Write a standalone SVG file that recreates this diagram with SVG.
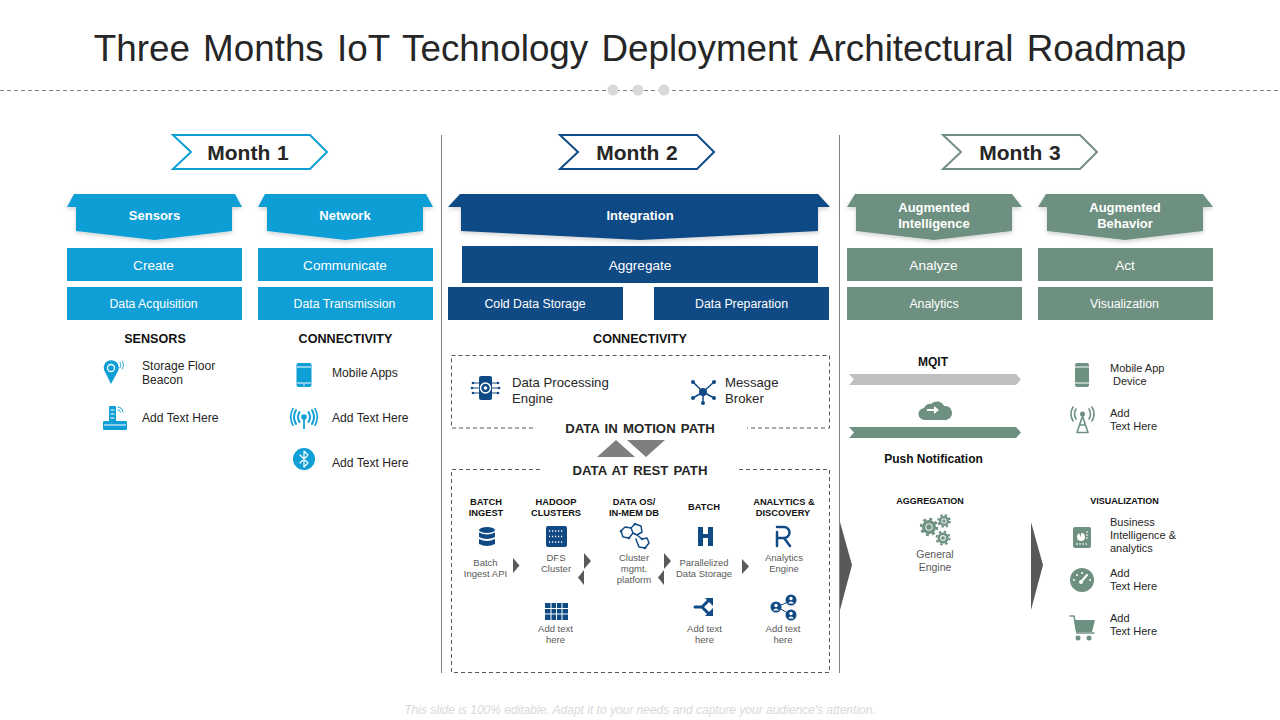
<svg xmlns="http://www.w3.org/2000/svg" width="1280" height="720" viewBox="0 0 1280 720">
<defs>
<filter id="sh" x="-10%" y="-10%" width="120%" height="130%"><feDropShadow dx="0" dy="2" stdDeviation="2" flood-color="#000" flood-opacity="0.18"/></filter>
</defs>
<style>
text{font-family:"Liberation Sans",Arial,sans-serif;fill:#262626}
.m{text-anchor:middle}
.w{fill:#fff;text-anchor:middle}
.hd{font-size:13px;font-weight:700}
.a{font-size:13.6px}.b{font-size:12.300px}
.s{font-size:12.600px;font-weight:700;text-anchor:middle;fill:#111}
.t{font-size:12.100px}
.u{font-size:13.200px}
.p{font-size:13.200px;font-weight:700;text-anchor:middle;word-spacing:1.500px}
.h{font-size:9.300px;font-weight:700;text-anchor:middle;fill:#111}
.g{font-size:9.500px;text-anchor:middle;fill:#595959}
.r{font-size:11px}
.mo{font-size:21px;font-weight:700;text-anchor:middle;word-spacing:1px}
.blue{fill:#0F9ED5}.navy{fill:#104A84}.green{fill:#6E9081}
.sb{stroke:#0F9ED5}.sn{stroke:#104A84}.sg{stroke:#6E9081}
.o{fill:none;stroke-linecap:round;stroke-linejoin:round}
.tri{fill:#595959}
.dash{fill:none;stroke:#595959;stroke-width:1;stroke-dasharray:4 3}
</style>
<rect width="1280" height="720" fill="#fff"/>
<text x="640" y="61" class="m" font-size="36.800" style="word-spacing:3px">Three Months IoT Technology Deployment Architectural Roadmap</text>
<g id="title-rule">
<line x1="0" y1="90.500" x2="1280" y2="90.500" stroke="#7f7f7f" stroke-dasharray="4 3"/>
<circle cx="613" cy="90" r="5.500" fill="#d9d9d9"/><circle cx="638" cy="90" r="5.500" fill="#d9d9d9"/><circle cx="664" cy="90" r="5.500" fill="#d9d9d9"/>
</g>
<g id="dividers" stroke="#7f7f7f" stroke-width="1">
<line x1="441.500" y1="135" x2="441.500" y2="673"/><line x1="839.500" y1="135" x2="839.500" y2="673"/>
</g>

<g id="month1"><path d="M173,135H310L327,152L310,169H173L191,152Z" fill="#fff" class="sb" stroke-width="2"/><text x="248" y="160" class="mo">Month 1</text></g>
<g id="month2"><path d="M560,135H697L714,152L697,169H560L578,152Z" fill="#fff" class="sn" stroke-width="2"/><text x="637" y="160" class="mo">Month 2</text></g>
<g id="month3"><path d="M943,135H1080L1097,152L1080,169H943L961,152Z" fill="#fff" class="sg" stroke-width="2"/><text x="1020" y="160" class="mo">Month 3</text></g>

<g id="sensors-col">
<path class="blue" filter="url(#sh)" d="M74,194H235L242,207H232V231L154.500,240L76,231V207H67Z"/>
<text x="154.500" y="220" class="w hd">Sensors</text>
<rect class="blue" x="67" y="248" width="175" height="33"/><text x="153.500" y="270" class="w a">Create</text>
<rect class="blue" x="67" y="287" width="175" height="33"/><text x="153.500" y="308" class="w b">Data Acquisition</text>
<text x="155" y="343" class="s">SENSORS</text>
</g>
<g id="network-col">
<path class="blue" filter="url(#sh)" d="M265,194H426L433,207H423V231L345.500,240L267,231V207H258Z"/>
<text x="345" y="220" class="w hd">Network</text>
<rect class="blue" x="258" y="248" width="175" height="33"/><text x="345" y="270" class="w a">Communicate</text>
<rect class="blue" x="258" y="287" width="175" height="33"/><text x="344.500" y="308" class="w b">Data Transmission</text>
<text x="345.500" y="343" class="s">CONNECTIVITY</text>
</g>
<g id="integration-col">
<path class="navy" filter="url(#sh)" d="M460,194H818L830,207H818V231L640,240L461,231V207H448Z"/>
<text x="640" y="220" class="w hd">Integration</text>
<rect class="navy" x="462" y="246" width="356" height="37"/><text x="640" y="270" class="w a">Aggregate</text>
<rect class="navy" x="448" y="287" width="175" height="33"/><text x="535" y="308" class="w b">Cold Data Storage</text>
<rect class="navy" x="654" y="287" width="175" height="33"/><text x="741.500" y="308" class="w b">Data Preparation</text>
<text x="640" y="343" class="s">CONNECTIVITY</text>
</g>
<g id="ai-col">
<path class="green" filter="url(#sh)" d="M855,194H1012L1022,207H1012V231L934,240L856,231V207H847Z"/>
<text x="934" y="212" class="w hd">Augmented</text><text x="934" y="228" class="w hd">Intelligence</text>
<rect class="green" x="847" y="248" width="175" height="33"/><text x="933.500" y="270" class="w a">Analyze</text>
<rect class="green" x="847" y="287" width="175" height="33"/><text x="934" y="308" class="w b">Analytics</text>
</g>
<g id="ab-col">
<path class="green" filter="url(#sh)" d="M1046,194H1203L1213,207H1203V231L1125,240L1047,231V207H1038Z"/>
<text x="1125" y="212" class="w hd">Augmented</text><text x="1125" y="228" class="w hd">Behavior</text>
<rect class="green" x="1038" y="248" width="175" height="33"/><text x="1125" y="270" class="w a">Act</text>
<rect class="green" x="1038" y="287" width="175" height="33"/><text x="1124.500" y="308" class="w b">Visualization</text>
</g>

<g id="beacon">
<path class="blue" d="M111,384L104.500,371A7.500,7.500,0,1,1,118,371Z"/><circle cx="111" cy="368" r="3.500" fill="none" stroke="#fff" stroke-width="1.300"/>
<path class="o sb" d="M120,362q2,3 0,6M122.500,361q2.500,4 0,8" stroke-width="0.800"/>
<text x="142" y="370" class="t">Storage Floor</text><text x="142" y="384" class="t">Beacon</text>
</g>
<g id="phone-base">
<rect class="blue" x="103" y="421" width="24" height="9" rx="1"/><rect class="blue" x="109" y="406" width="7" height="16" rx="1"/>
<path stroke="#fff" stroke-width="1" d="M110.500,410h4M110.500,414h4M110.500,418h4M104,425h22"/>
<path class="o sb" d="M118,407q4,0 5,5M118,410q2,0 2.500,2" stroke-width="1"/>
<text x="142" y="422" class="t">Add Text Here</text>
</g>
<g id="mobile-apps">
<rect class="blue" x="296.500" y="363" width="15" height="24" rx="2"/>
<path stroke="#fff" stroke-width="1" d="M297,367h14M297,383h14"/><circle cx="304" cy="385" r="0.800" fill="#fff"/>
<text x="332" y="377" class="t">Mobile Apps</text>
</g>
<g id="antenna">
<circle class="blue" cx="304" cy="417" r="2.800"/><line x1="304" y1="418" x2="304" y2="429" class="sb" stroke-width="1.800"/>
<path class="o sb" stroke-width="2" d="M299.500,412q-3,5 0,10M308.500,412q3,5 0,10M296,410q-4,7 0,14M312,410q4,7 0,14"/>
<path class="o sb" stroke-width="1.600" d="M293,408.500q-4.500,8.500 0,17M315,408.500q4.500,8.500 0,17"/>
<text x="332" y="422" class="t">Add Text Here</text>
</g>
<g id="bluetooth">
<circle class="blue" cx="304" cy="459" r="11"/><path class="o" stroke="#fff" stroke-width="1.200" d="M300,455L308,463L304,467V451L308,455L300,463"/>
<text x="332" y="467" class="t">Add Text Here</text>
</g>

<g id="motion-box">
<path class="dash" d="M533,428H451.500V355.500H829.500V428H747"/>
<text x="640" y="433" class="p">DATA IN MOTION PATH</text>
</g>
<g id="dp-engine">
<rect class="navy" x="479" y="376" width="13" height="24" rx="2"/>
<circle cx="485.500" cy="388" r="5" fill="none" stroke="#fff" stroke-width="1.500"/><circle cx="485.500" cy="388" r="1.800" fill="#fff"/>
<path class="o sn" stroke-width="1" d="M473,383h6M473,388h6M473,393h6M492,383h6M492,388h6M492,393h6"/>
<g class="navy"><circle cx="473" cy="383" r="1.300"/><circle cx="472" cy="388" r="1.300"/><circle cx="473" cy="393" r="1.300"/><circle cx="498" cy="383" r="1.300"/><circle cx="499" cy="388" r="1.300"/><circle cx="498" cy="393" r="1.300"/></g>
<text x="512" y="387" class="u">Data Processing</text><text x="512" y="403" class="u">Engine</text>
</g>
<g id="broker">
<path class="sn" stroke-width="1.500" d="M703,392L693,382M703,392L714,382M703,392V403M703,392L693,398M703,392L714,398"/>
<circle class="navy" cx="703" cy="392" r="4"/>
<g class="navy"><circle cx="693" cy="382" r="2"/><circle cx="714" cy="382" r="2"/><circle cx="703" cy="403" r="2"/><circle cx="693" cy="398" r="2"/><circle cx="714" cy="398" r="2"/></g>
<text x="725" y="387" class="u">Message</text><text x="725" y="403" class="u">Broker</text>
</g>
<g id="path-arrows" fill="#7f7f7f">
<path d="M616,440L635,457H597Z"/><path d="M627,440H665L646,457Z"/>
</g>
<g id="rest-box">
<path class="dash" d="M540,469.500H451.500V672.500H829.500V469.500H738"/>
<text x="640" y="475" class="p">DATA AT REST PATH</text>
</g>

<g id="batch-ingest">
<text x="486" y="505" class="h">BATCH</text><text x="486" y="516" class="h">INGEST</text>
<ellipse class="navy" cx="487" cy="530" rx="8" ry="3"/><path class="navy" d="M479,532.500q8,4 16,0V537q-8,4 -16,0ZM479,539q8,4 16,0V544q-8,4 -16,0Z"/>
<text x="485.500" y="566" class="g">Batch</text><text x="485.500" y="577" class="g">Ingest API</text>
</g>
<g id="hadoop">
<text x="556" y="505" class="h">HADOOP</text><text x="556" y="516" class="h">CLUSTERS</text>
<rect class="navy" x="546" y="526" width="21" height="21" rx="2"/>
<path stroke="#fff" stroke-width="1.500" stroke-dasharray="1.200 1.800" d="M549,531h15M549,536.500h15M549,542h15"/>
<text x="556" y="561" class="g">DFS</text><text x="556" y="572" class="g">Cluster</text>
</g>
<g id="grid-icon">
<rect class="navy" x="545" y="603" width="23" height="17"/>
<path stroke="#fff" stroke-width="1" d="M551,603v17M556.500,603v17M562,603v17M545,608.500h23M545,614h23"/>
<text x="555.500" y="632" class="g">Add text</text><text x="555.500" y="643" class="g">here</text>
</g>
<g id="cluster-db">
<text x="634" y="505" class="h">DATA  OS/</text><text x="634" y="516" class="h">IN-MEM  DB</text>
<path class="o sn" stroke-width="1.500" d="M621,531l4,-4l6,1l2,5l-4,5l-6,-1ZM631,528l4,-4l6,2l1,6l-5,3l-4,-2M637,535l5,4l5,-1l2,5l-4,5l-6,-1l-2,-5l-1,-3"/>
<g class="navy"><circle cx="621" cy="531" r="1.300"/><circle cx="635" cy="524" r="1.300"/><circle cx="642" cy="539" r="1.300"/><circle cx="645" cy="548" r="1.300"/><circle cx="629" cy="538" r="1.300"/></g>
<text x="634" y="561" class="g">Cluster</text><text x="634" y="572" class="g">mgmt.</text><text x="634" y="583" class="g">platform</text>
</g>
<g id="batch-h">
<text x="704" y="510" class="h">BATCH</text>
<path class="navy" d="M698,527h5v7h5v-7h5v19h-5v-8h-5v8h-5Z"/>
<text x="704" y="566" class="g">Parallelized</text><text x="704" y="577" class="g">Data Storage</text>
</g>
<g id="analytics">
<text x="783" y="516" class="h">DISCOVERY</text><text x="784" y="505" class="h">ANALYTICS  &amp;</text>
<path class="o sn" stroke-width="2.500" d="M777,527h7a5.500,5.500,0,0,1,0,11h-7M777,532V546M784,538l6,8"/>
<text x="784" y="561" class="g">Analytics</text><text x="784" y="572" class="g">Engine</text>
</g>
<g id="fork">
<path class="o sn" stroke-width="3" d="M695,607h7l6,-6M702,607l6,6"/>
<path class="navy" d="M705,598h8v8ZM705,616h8v-8Z"/>
<text x="704.500" y="632" class="g">Add text</text><text x="704.500" y="643" class="g">here</text>
</g>
<g id="users">
<path class="sn" stroke-width="1" d="M779,606l9,-4M779,608l9,5"/>
<circle class="navy" cx="776" cy="607" r="5.500"/><circle class="navy" cx="791" cy="600" r="5.500"/><circle class="navy" cx="791" cy="615" r="5.500"/>
<g fill="#fff"><circle cx="776" cy="605.500" r="1.700"/><path d="M773,610.500q3,-4 6,0Z"/><circle cx="791" cy="598.500" r="1.700"/><path d="M788,603.500q3,-4 6,0Z"/><circle cx="791" cy="613.500" r="1.700"/><path d="M788,618.500q3,-4 6,0Z"/></g>
<text x="783" y="632" class="g">Add text</text><text x="783" y="643" class="g">here</text>
</g>
<g id="flow-arrows" class="tri">
<path d="M513,558l6.500,7.500l-6.500,7.500Z"/>
<path d="M584,553l7,8l-7,8Z"/><path d="M584,570l-6,7.500l6,7.500Z"/>
<path d="M664,553l7,8l-7,8Z"/><path d="M664,570l-6,7.500l6,7.500Z"/>
<path d="M742,559l7,7.500l-7,7.500Z"/>
</g>

<g id="mqtt">
<text x="933" y="366" class="h" style="font-size:12px">MQIT</text>
<path fill="#bfbfbf" d="M849,374H1016L1021,379.500L1016,385H849L854,379.500Z"/>
</g>
<g id="cloud">
<path class="green" d="M925,420a6,6,0,0,1,-1,-12a6,6,0,0,1,7,-4a8,8,0,0,1,13,2a7,7,0,0,1,2,14Z"/>
<path fill="#fff" d="M927,409h7v-3l5,4l-5,4v-3h-7Z"/>
</g>
<g id="push">
<path class="green" d="M849,427H1016L1021,432.500L1016,438H849L854,432.500Z"/>
<text x="933.500" y="463" class="h" style="font-size:12px">Push Notification</text>
</g>
<g id="mobile-device">
<rect class="green" x="1075" y="363" width="14" height="24" rx="2"/>
<path stroke="#fff" stroke-width="1" d="M1075,367h14M1075,383h14"/>
<text x="1110" y="372" class="r">Mobile App</text><text x="1113" y="385" class="r">Device</text>
</g>
<g id="tower">
<circle class="green" cx="1082.500" cy="414" r="2.500"/>
<path class="o sg" stroke-width="1.600" d="M1082.500,416L1077,432.500H1088ZM1079.500,425h6M1076,409q-3,5 0,10M1089,409q3,5 0,10M1073,407q-4,7 0,14M1092,407q4,7 0,14"/>
<text x="1110" y="417" class="r">Add</text><text x="1110" y="430" class="r">Text Here</text>
</g>
<g id="big-arrows" class="tri">
<path d="M840,522L852,565L840,610Z"/><path d="M1031,522L1043,565L1031,610Z"/>
</g>
<g id="aggregation">
<text x="930" y="504" class="h" style="font-size:9px">AGGREGATION</text>
<g class="green"><circle cx="929" cy="527" r="7"/><circle cx="944" cy="521" r="5"/><circle cx="943" cy="538" r="5.500"/></g>
<g fill="none" class="sg"><circle cx="929" cy="527" r="8" stroke-width="2.500" stroke-dasharray="3 3.280"/><circle cx="944" cy="521" r="5.800" stroke-width="2" stroke-dasharray="2.500 2.060"/><circle cx="943" cy="538" r="6.500" stroke-width="2" stroke-dasharray="2.500 2.600"/></g>
<g fill="none" stroke="#fff" stroke-width="1.100" opacity="0.85"><circle cx="929" cy="527" r="3.200"/><circle cx="944" cy="521" r="2.200"/><circle cx="943" cy="538" r="2.400"/></g>
<text x="935" y="558" class="g" style="font-size:10.500px">General</text><text x="935" y="571" class="g" style="font-size:10.500px">Engine</text>
</g>
<g id="visualization">
<text x="1124.500" y="504" class="h" style="font-size:9px">VISUALIZATION</text>
</g>
<g id="bi">
<rect class="green" x="1073" y="527" width="18" height="21" rx="2"/>
<circle cx="1081" cy="537" r="4" fill="#fff"/><path class="green" d="M1081,537v-4h-2z"/><path stroke="#fff" stroke-width="1" d="M1076,544h12M1087,531v9" stroke-dasharray="2 1"/>
<text x="1110" y="526" class="r">Business</text><text x="1110" y="539" class="r">Intelligence &amp;</text><text x="1110" y="552" class="r">analytics</text>
</g>
<g id="gauge">
<circle class="green" cx="1082" cy="580" r="12"/>
<path stroke="#fff" stroke-width="2" stroke-linecap="round" d="M1081,582L1087,575"/><circle cx="1081" cy="582" r="2" fill="#fff"/>
<g fill="#fff"><circle cx="1074" cy="580" r="1"/><circle cx="1077" cy="575" r="1"/><circle cx="1082" cy="573" r="1"/><circle cx="1090" cy="580" r="1"/></g>
<text x="1110" y="577" class="r">Add</text><text x="1110" y="590" class="r">Text Here</text>
</g>
<g id="cart">
<path class="green" d="M1074,620H1095L1092,632H1076Z"/>
<path class="o sg" stroke-width="1.500" d="M1070,616h4l3,17h17"/>
<circle class="green" cx="1078" cy="638" r="2.500"/><circle class="green" cx="1089" cy="638" r="2.500"/>
<text x="1110" y="622" class="r">Add</text><text x="1110" y="635" class="r">Text Here</text>
</g>
<text x="640" y="714" class="m" font-size="12" font-style="italic" style="fill:#d9d9d9">This slide is 100% editable. Adapt it to your needs and capture your audience's attention.</text>
</svg>
